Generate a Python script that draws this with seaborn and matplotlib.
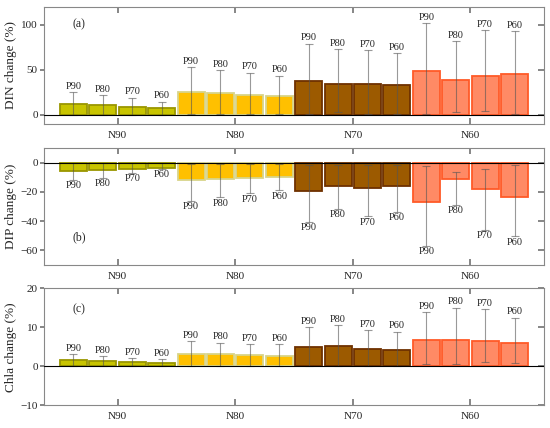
import numpy as np
import pandas as pd
import matplotlib
matplotlib.use("Agg")
import matplotlib.pyplot as plt
import seaborn as sns

groups = ["N90", "N80", "N70", "N60"]
levels = ["P90", "P80", "P70", "P60"]

din_val = [12.2, 10.7, 8.9, 7.4, 25.5, 24.0, 22.5, 21.0, 38.0, 34.8, 34.8, 33.0, 49.0, 39.0, 43.3, 45.0]
din_lo = [0.5, 0.5, 0.5, 0.5, 1.5, 1.5, 1.5, 1.5, 1.5, 3.3, 1.5, 1.5, 1.5, 3.0, 4.8, 1.5]
din_hi = [25.5, 22.0, 19.0, 14.8, 53.0, 50.0, 47.0, 43.6, 79.0, 73.3, 72.0, 68.5, 102.0, 82.0, 94.0, 93.0]

dip_val = [-5.7, -4.8, -4.1, -3.4, -12.1, -11.2, -10.8, -9.6, -19.2, -15.8, -17.6, -16.3, -26.8, -11.0, -18.3, -23.6]
dip_lo = [-11.7, -10.3, -6.9, -4.1, -25.9, -23.6, -21.0, -19.0, -40.5, -31.4, -36.6, -33.7, -56.8, -29.0, -45.8, -50.4]
dip_hi = [-0.5, -0.5, -0.5, -0.5, -0.9, -0.9, -0.9, -0.9, -1.4, -1.4, -1.4, -1.4, -2.0, -6.2, -4.1, -1.6]

chla_val = [1.54, 1.37, 1.1, 0.94, 3.25, 3.1, 2.8, 2.65, 4.96, 5.2, 4.5, 4.3, 6.7, 6.8, 6.5, 6.0]
chla_lo = [0.2, 0.2, 0.2, 0.2, 0.2, 0.2, 0.2, 0.2, 0.2, 0.2, 0.2, 0.2, 0.6, 0.5, 1.2, 0.9]
chla_hi = [3.1, 2.6, 2.1, 1.8, 6.5, 6.1, 5.7, 5.6, 10.1, 10.6, 9.3, 8.9, 13.8, 15.0, 14.6, 12.5]

face_colors = ["#C8C400", "#FFC000", "#9C5A00", "#FF8A65"]
edge_colors = ["#9A9600", "#D8D48A", "#6E3000", "#FF5A28"]

SERIF = ["Liberation Serif", "DejaVu Serif"]
sns.set_theme(style="white")
plt.rcParams["font.family"] = SERIF

fig = plt.figure(figsize=(5.5, 4.28), dpi=100)
L, W = 44 / 550, 500 / 550
H = 117 / 428
axes = [fig.add_axes([L, 1 - 124 / 428, W, H]),
        fig.add_axes([L, 1 - 265 / 428, W, H]),
        fig.add_axes([L, 1 - 405.3 / 428, W, H])]

panels = [
    (din_val, din_lo, din_hi, "DIN change (%)", (-10, 120), [0, 50, 100], "(a)", 0.85, True),
    (dip_val, dip_lo, dip_hi, "DIP change (%)", (-70, 10), [-60, -40, -20, 0], "(b)", 0.24, False),
    (chla_val, chla_lo, chla_hi, "Chla change (%)", (-10, 20), [-10, 0, 10, 20], "(c)", 0.82, True),
]

names = [g + "-" + p for g in groups for p in levels]
grp = [g for g in groups for _ in levels]
lvl = [p for _ in groups for p in levels]

for ax, (vals, lo, hi, ylab, ylim, yticks, tag, tagy, up) in zip(axes, panels):
    df = pd.DataFrame({"name": names, "group": grp, "level": lvl, "value": vals,
                       "lo": lo, "hi": hi})
    sns.barplot(data=df, x="name", y="value", hue="group", dodge=False,
                palette=dict(zip(groups, face_colors)), errorbar=None, saturation=1,
                width=0.92, legend=False, ax=ax, order=names, hue_order=groups)
    for patch in ax.patches:
        cx = patch.get_x() + patch.get_width() / 2
        i = int(round(cx))
        if 0 <= i < len(names):
            gi = groups.index(grp[i])
            patch.set_edgecolor(edge_colors[gi])
            patch.set_linewidth(1.3)
    xs = np.arange(len(names))
    v = np.array(vals)
    ax.errorbar(xs, v, yerr=[v - np.array(lo), np.array(hi) - v], fmt="none",
                ecolor="#555555", elinewidth=0.8, capsize=3, capthick=0.8, alpha=0.6, zorder=3)
    ax.axhline(0, color="black", lw=0.8, zorder=4)
    span = ylim[1] - ylim[0]
    for x, l, h, t in zip(xs, lo, hi, lvl):
        if up:
            ax.text(x, h + span * 0.012, t, ha="center", va="bottom", fontsize=7.5, family=SERIF)
        else:
            ax.text(x, l - span * 0.012, t, ha="center", va="top", fontsize=7.5, family=SERIF)
    ax.set_xlim(-1.0, 16.0)
    ax.set_ylim(*ylim)
    ax.set_yticks(yticks)
    ax.set_xticks([1.5, 5.5, 9.5, 13.5])
    ax.set_xticklabels(groups)
    ax.set_xlabel("")
    ax.set_ylabel(ylab, fontsize=9.5)
    ax.yaxis.set_label_coords(-0.054, 0.5)
    ax.tick_params(axis="x", direction="in", top=True, bottom=True, length=4,
                   color="#777777", pad=5, labelsize=8)
    ax.tick_params(axis="y", direction="out", left=True, length=3, color="#777777",
                   pad=1.5, labelsize=8)
    sec = ax.secondary_yaxis("right")
    sec.set_yticks(yticks)
    sec.tick_params(direction="in", length=4, color="#777777", labelright=False)
    sec.spines["right"].set_visible(False)
    for s in ax.spines.values():
        s.set_color("#888888")
        s.set_linewidth(0.8)
    ax.text(0.07, tagy, tag, transform=ax.transAxes, fontsize=8.5, ha="center", va="center")

fig.savefig("out.png", dpi=100)
